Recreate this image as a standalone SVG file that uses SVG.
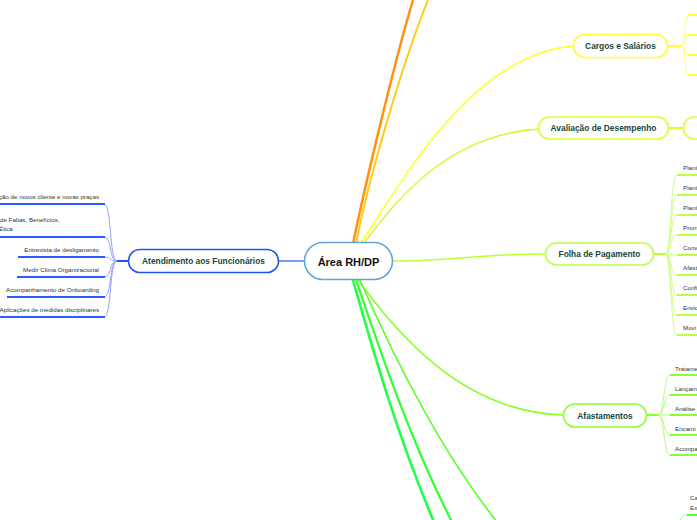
<svg xmlns="http://www.w3.org/2000/svg" width="697" height="520" viewBox="0 0 697 520">
<style>
.node{fill:#fff;stroke-width:1.6}
.nt{font-family:"Liberation Sans",Arial,sans-serif;font-weight:bold;font-size:8.4px;fill:#17493a;text-anchor:middle}
.ct{font-family:"Liberation Sans",Arial,sans-serif;font-weight:bold;font-size:11px;fill:#111;text-anchor:middle}
.lt{font-family:"Liberation Sans",Arial,sans-serif;font-size:6.2px;fill:#333}
.c{fill:none}
</style>
<rect width="697" height="520" fill="#fff"/>
<g id="connectors">
  <!-- main branches -->
  <path class="c" d="M353,244 C365,185 395,60 413,0" stroke="#ff9212" stroke-width="2.5"/>
  <path class="c" d="M356,244 C367,185 400,70 428,0" stroke="#ffcc1a" stroke-width="2"/>
  <path class="c" d="M361,243 C400,185 470,55 573,46" stroke="#ffff22" stroke-width="1.5"/>
  <path class="c" d="M364,243 C400,195 450,135 538,129" stroke="#d8f733" stroke-width="1.5"/>
  <path class="c" d="M392,261 C450,261 480,254 545,254" stroke="#bbff33" stroke-width="1.5"/>
  <path class="c" d="M358,280 C395,330 460,412 563,415" stroke="#88ff22" stroke-width="1.5"/>
  <path class="c" d="M353,280 C370,340 395,430 434,522" stroke="#22ff44" stroke-width="2.6"/>
  <path class="c" d="M356,280 C380,350 410,440 452,522" stroke="#33ff33" stroke-width="2.2"/>
  <path class="c" d="M360,280 C395,360 440,450 497,522" stroke="#55ff22" stroke-width="1.6"/>
  <path class="c" d="M278,261 L304,261" stroke="#7a9af0" stroke-width="2"/>
  <!-- left leaves -->
  <path class="c" d="M117,261 L128,261" stroke="#2255ee" stroke-width="2"/>
  <g stroke="#8fa3ff" stroke-width="1" fill="none">
    <path d="M117,261 C109,261 112,204 104,204"/>
    <path d="M117,261 C109,261 112,237 104,237"/>
    <path d="M117,261 C109,261 112,257 104,257"/>
    <path d="M117,261 C109,261 112,277 104,277"/>
    <path d="M117,261 C109,261 112,297 104,297"/>
    <path d="M117,261 C109,261 112,317 104,317"/>
  </g>
  <g stroke="#2a5cff" stroke-width="2">
    <line x1="0" y1="204" x2="105" y2="204"/>
    <line x1="0" y1="237" x2="105" y2="237"/>
    <line x1="18" y1="257" x2="105" y2="257"/>
    <line x1="17" y1="277" x2="105" y2="277"/>
    <line x1="7" y1="297" x2="105" y2="297"/>
    <line x1="0" y1="317" x2="105" y2="317"/>
  </g>
  <!-- cargos leaves -->
  <path class="c" d="M667,46 L681,46" stroke="#ffff33" stroke-width="2"/>
  <g stroke="#ffff66" stroke-width="1" fill="none">
    <path d="M681,46 C686,46 684,15 689,15"/>
    <path d="M681,46 C686,46 684,35 689,35"/>
    <path d="M681,46 C686,46 684,55 689,55"/>
    <path d="M681,46 C686,46 684,75 689,75"/>
  </g>
  <g stroke="#ffff33" stroke-width="2">
    <line x1="688" y1="15" x2="697" y2="15"/>
    <line x1="688" y1="35" x2="697" y2="35"/>
    <line x1="688" y1="55" x2="697" y2="55"/>
    <line x1="688" y1="75" x2="697" y2="75"/>
  </g>
  <!-- avaliacao -->
  <path class="c" d="M668,128 L683,128" stroke="#ddff33" stroke-width="2"/>
  <!-- folha leaves -->
  <path class="c" d="M653,254 L665,254" stroke="#bbff33" stroke-width="2"/>
  <g stroke="#ccff88" stroke-width="1" fill="none">
    <path d="M665,254 C672,254 670,175 677,175"/>
    <path d="M665,254 C672,254 670,195 677,195"/>
    <path d="M665,254 C672,254 670,215 677,215"/>
    <path d="M665,254 C672,254 670,235 677,235"/>
    <path d="M665,254 C672,254 670,255 677,255"/>
    <path d="M665,254 C672,254 670,275 677,275"/>
    <path d="M665,254 C672,254 670,295 677,295"/>
    <path d="M665,254 C672,254 670,315 677,315"/>
    <path d="M665,254 C672,254 670,335 677,335"/>
  </g>
  <g stroke="#bbff44" stroke-width="2">
    <line x1="677" y1="175" x2="697" y2="175"/>
    <line x1="677" y1="195" x2="697" y2="195"/>
    <line x1="677" y1="215" x2="697" y2="215"/>
    <line x1="677" y1="235" x2="697" y2="235"/>
    <line x1="677" y1="255" x2="697" y2="255"/>
    <line x1="677" y1="275" x2="697" y2="275"/>
    <line x1="677" y1="295" x2="697" y2="295"/>
    <line x1="677" y1="315" x2="697" y2="315"/>
    <line x1="677" y1="335" x2="697" y2="335"/>
  </g>
  <!-- afastamentos leaves -->
  <path class="c" d="M646,415 L658,415" stroke="#88ff33" stroke-width="2"/>
  <g stroke="#b0ff80" stroke-width="1" fill="none">
    <path d="M658,415 C665,415 663,375 670,375"/>
    <path d="M658,415 C665,415 663,395 670,395"/>
    <path d="M658,415 C665,415 663,415 670,415"/>
    <path d="M658,415 C665,415 663,435 670,435"/>
    <path d="M658,415 C665,415 663,455 670,455"/>
  </g>
  <g stroke="#88ff33" stroke-width="2">
    <line x1="670" y1="375" x2="697" y2="375"/>
    <line x1="670" y1="395" x2="697" y2="395"/>
    <line x1="670" y1="415" x2="697" y2="415"/>
    <line x1="670" y1="435" x2="697" y2="435"/>
    <line x1="670" y1="455" x2="697" y2="455"/>
  </g>
  <!-- bottom right leaf -->
  <path class="c" d="M680,521 C682,515 684,515 688,515" stroke="#99ff77" stroke-width="1"/>
  <line x1="687" y1="515" x2="697" y2="515" stroke="#55ff33" stroke-width="2"/>
</g>
<g id="center">
  <rect class="node" x="304.5" y="242.5" width="88" height="37" rx="18.5" stroke="#62a3db"/>
  <text class="ct" x="348.5" y="265.5">Área RH/DP</text>
</g>
<g id="atendimento">
  <rect class="node" x="128.5" y="249.5" width="150" height="23" rx="11.5" stroke="#2255ee"/>
  <text class="nt" x="203.5" y="264">Atendimento aos Funcionários</text>
</g>
<g id="cargos">
  <rect class="node" x="573.5" y="34.5" width="94" height="23" rx="11.5" stroke="#ffff33"/>
  <text class="nt" x="620.5" y="49">Cargos e Salários</text>
</g>
<g id="avaliacao">
  <rect class="node" x="538.5" y="117" width="130" height="22" rx="11" stroke="#ddff33"/>
  <text class="nt" x="603.5" y="131">Avaliação de Desempenho</text>
</g>
<g id="avaliacao-child">
  <rect class="node" x="683.5" y="117" width="40" height="22" rx="11" stroke="#ddff33"/>
</g>
<g id="folha">
  <rect class="node" x="545.5" y="243" width="108" height="22" rx="11" stroke="#bbff44"/>
  <text class="nt" x="599.5" y="257">Folha de Pagamento</text>
</g>
<g id="afastamentos">
  <rect class="node" x="563.5" y="404" width="83" height="23" rx="11.5" stroke="#88ff33"/>
  <text class="nt" x="605" y="418.5">Afastamentos</text>
</g>
<g id="left-leaves" class="lt">
  <text x="99" y="199" text-anchor="end">ção de novos cliente e novas praças</text>
  <text x="0" y="222">de Faltas, Benefícios,</text>
  <text x="-1" y="231">Ética</text>
  <text x="99" y="251.5" text-anchor="end">Entrevista de desligamento</text>
  <text x="99" y="271.5" text-anchor="end">Medir Clima Organizacional</text>
  <text x="99" y="291.5" text-anchor="end">Acompanhamento de Onboarding</text>
  <text x="99" y="311.5" text-anchor="end">Aplicações de medidas disciplinares</text>
</g>
<g id="folha-leaves" class="lt">
  <text x="683" y="169.5">Planil</text>
  <text x="683" y="189.5">Planil</text>
  <text x="683" y="209.5">Planil</text>
  <text x="683" y="229.5">Prom</text>
  <text x="683" y="249.5">Conv</text>
  <text x="683" y="269.5">Afast</text>
  <text x="683" y="289.5">Confi</text>
  <text x="683" y="309.5">Envio</text>
  <text x="683" y="329.5">Movi</text>
</g>
<g id="afastamentos-leaves" class="lt">
  <text x="675" y="370.5">Tratame</text>
  <text x="675" y="390.5">Lançam</text>
  <text x="675" y="410.5">Análise</text>
  <text x="675" y="430.5">Encami</text>
  <text x="675" y="450.5">Acompa</text>
</g>
<g id="bottom-leaf" class="lt">
  <text x="690" y="500">Ca</text>
  <text x="690" y="510">Ex</text>
</g>
</svg>
